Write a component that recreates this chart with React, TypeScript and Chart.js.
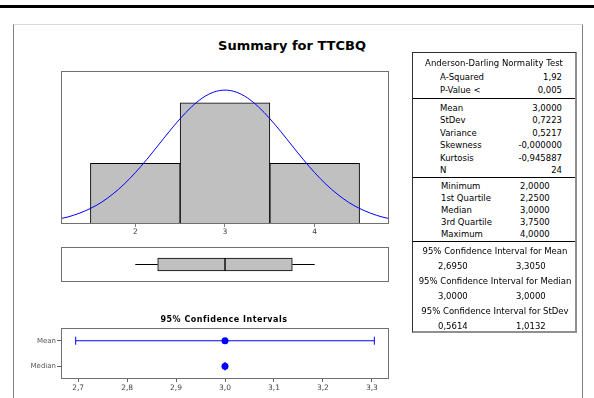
import React, { useEffect, useRef } from 'react';
import { Chart, registerables } from 'chart.js';

Chart.register(...registerables);

// ---------- data ----------
const histBins = [2, 3, 4];
const histCounts = [6, 12, 6];
const histTicks = [2, 3, 4];
// fitted normal curve (count scale)
const curveX = [1.172, 1.25, 1.375, 1.5, 1.625, 1.75, 1.875, 2, 2.125, 2.25, 2.375, 2.5, 2.625, 2.75, 2.875, 3,
  3.125, 3.25, 3.375, 3.5, 3.625, 3.75, 3.875, 4, 4.125, 4.25, 4.375, 4.5, 4.625, 4.75, 4.828];
const curveY = [0.54, 0.70, 1.06, 1.54, 2.16, 2.97, 3.94, 5.08, 6.36, 7.73, 9.12, 10.43, 11.58, 12.49, 13.06, 13.26,
  13.06, 12.49, 11.58, 10.43, 9.12, 7.73, 6.36, 5.08, 3.94, 2.97, 2.16, 1.54, 1.06, 0.70, 0.54];

const boxMin = 2.0;
const boxQ1 = 2.25;
const boxMedian = 3.0;
const boxQ3 = 3.75;
const boxMax = 4.0;

const ciRows = ['Mean', 'Median'];
const meanCI = [2.695, 3.305];
const medianCI = [3.0, 3.0];
const ciCenters = [3.0, 3.0];
const ciTicks = [2.7, 2.8, 2.9, 3.0, 3.1, 3.2, 3.3];

const adLabels = ['A-Squared', 'P-Value <'];
const adValues = ['1,92', '0,005'];
const descLabels = ['Mean', 'StDev', 'Variance', 'Skewness', 'Kurtosis', 'N'];
const descValues = ['3,0000', '0,7223', '0,5217', '-0,000000', '-0,945887', '24'];
const quartLabels = ['Minimum', '1st Quartile', 'Median', '3rd Quartile', 'Maximum'];
const quartValues = ['2,0000', '2,2500', '3,0000', '3,7500', '4,0000'];
const ciHeaders = ['95% Confidence Interval for Mean', '95% Confidence Interval for Median', '95% Confidence Interval for StDev'];
const ciLow = ['2,6950', '3,0000', '0,5614'];
const ciHigh = ['3,3050', '3,0000', '1,0132'];

// ---------- styling ----------
const FONT = '"DejaVu Sans", Verdana, sans-serif';
const BLUE = '#0000ff';

const framePlugin = {
  id: 'frame',
  afterDraw(chart: any) {
    const { ctx, chartArea: a } = chart;
    ctx.save();
    ctx.strokeStyle = '#707070';
    ctx.lineWidth = 1;
    ctx.strokeRect(a.left + 0.5, a.top + 0.5, a.right - a.left - 1, a.bottom - a.top - 1);
    ctx.restore();
  },
};

const baseOptions = (padding: any) => ({
  responsive: false,
  animation: false,
  events: [],
  layout: { padding },
  plugins: { legend: { display: false }, tooltip: { enabled: false }, title: { display: false } },
});

function histConfig(): any {
  return {
    type: 'bar',
    data: {
      datasets: [
        {
          type: 'line',
          data: curveX.map((x, i) => ({ x, y: curveY[i] })),
          borderColor: BLUE,
          borderWidth: 1,
          pointRadius: 0,
          cubicInterpolationMode: 'monotone',
          order: 0,
        },
        {
          type: 'bar',
          data: histBins.map((x, i) => ({ x, y: histCounts[i] })),
          backgroundColor: '#c0c0c0',
          borderColor: '#000000',
          borderWidth: 1,
          barPercentage: 1,
          categoryPercentage: 1,
          order: 1,
        },
      ],
    },
    options: {
      ...baseOptions({ left: 6, right: 6, top: 6, bottom: 5 }),
      scales: {
        x: {
          type: 'linear',
          min: 1.172,
          max: 4.828,
          offset: false,
          afterBuildTicks: (s: any) => { s.ticks = histTicks.map((v) => ({ value: v })); },
          afterFit: (s: any) => { s.height = 16; },
          grid: { drawOnChartArea: false, drawTicks: true, tickLength: 3, color: '#808080', offset: false },
          border: { display: false },
          ticks: { padding: 1, color: '#444', font: { family: FONT, size: 7.5 }, callback: (v: any) => String(v) },
        },
        y: { type: 'linear', display: false, min: 0, max: 15.15 },
      },
    },
    plugins: [framePlugin],
  };
}

function boxConfig(): any {
  const barStyle = {
    type: 'bar',
    indexAxis: 'y',
    backgroundColor: '#c0c0c0',
    borderColor: '#000000',
    borderWidth: 1,
    borderSkipped: false,
    barThickness: 13,
    grouped: false,
  };
  const whisker = { type: 'line', borderColor: '#000000', borderWidth: 1, pointRadius: 0 };
  return {
    type: 'bar',
    data: {
      datasets: [
        { ...barStyle, data: [{ x: [boxQ1, boxMedian], y: 0.5 }] },
        { ...barStyle, data: [{ x: [boxMedian, boxQ3], y: 0.5 }] },
        { ...whisker, data: [{ x: boxMin, y: 0.5 }, { x: boxQ1, y: 0.5 }] },
        { ...whisker, data: [{ x: boxQ3, y: 0.5 }, { x: boxMax, y: 0.5 }] },
      ],
    },
    options: {
      ...baseOptions({ left: 6, right: 6, top: 6, bottom: 6 }),
      scales: {
        x: { type: 'linear', display: false, min: 1.172, max: 4.828, offset: false },
        y: { type: 'linear', display: false, min: 0, max: 1, offset: false },
      },
    },
    plugins: [framePlugin],
  };
}

function ciConfig(): any {
  const cap = {
    borderColor: BLUE,
    borderWidth: 1,
    pointStyle: 'line',
    rotation: 90,
    pointRadius: 4,
    pointBorderColor: BLUE,
    pointBorderWidth: 1,
  };
  return {
    type: 'line',
    data: {
      datasets: [
        { ...cap, data: [{ x: meanCI[0], y: ciRows[0] }, { x: meanCI[1], y: ciRows[0] }] },
        { ...cap, data: [{ x: medianCI[0], y: ciRows[1] }, { x: medianCI[1], y: ciRows[1] }] },
        {
          data: ciRows.map((r, i) => ({ x: ciCenters[i], y: r })),
          showLine: false,
          pointStyle: 'circle',
          pointRadius: 3.5,
          pointBackgroundColor: BLUE,
          pointBorderColor: BLUE,
          pointBorderWidth: 0,
        },
      ],
    },
    options: {
      ...baseOptions({ left: 0, right: 6, top: 6, bottom: 2 }),
      scales: {
        x: {
          type: 'linear',
          min: 2.665,
          max: 3.335,
          offset: false,
          afterBuildTicks: (s: any) => { s.ticks = ciTicks.map((v) => ({ value: v })); },
          afterFit: (s: any) => { s.height = 17; },
          grid: { drawOnChartArea: false, drawTicks: true, tickLength: 3, color: '#606060', offset: false },
          border: { display: false },
          ticks: {
            padding: 2,
            color: '#444',
            font: { family: FONT, size: 7.5 },
            callback: (v: any) => Number(v).toFixed(1).replace('.', ','),
          },
        },
        y: {
          type: 'category',
          labels: ciRows,
          offset: true,
          afterFit: (s: any) => { s.width = 41; },
          grid: { drawOnChartArea: false, drawTicks: true, tickLength: 4, color: '#606060', offset: false },
          border: { display: false },
          ticks: { padding: 1, color: '#555', font: { family: FONT, size: 7 } },
        },
      },
    },
    plugins: [framePlugin],
  };
}

function Txt(props: { x: number; y: number; text: string; align?: string; size?: number; bold?: boolean; color?: string; spacing?: number }) {
  const { x, y, text, align = 'left', size = 8.5, bold = false, color = '#000', spacing = 0 } = props;
  const style: any = {
    position: 'absolute',
    top: y - 7,
    height: 14,
    lineHeight: '14px',
    fontSize: size,
    fontFamily: FONT,
    fontWeight: bold ? 'bold' : 'normal',
    color,
    whiteSpace: 'nowrap',
    letterSpacing: spacing,
  };
  if (align === 'left') style.left = x;
  else if (align === 'right') style.right = 594 - x;
  else {
    style.left = x - 150;
    style.width = 300;
    style.textAlign = 'center';
  }
  return <div style={style}>{text}</div>;
}

const abs = (l: number, t: number, w: number, h: number, extra: any = {}) => ({
  position: 'absolute' as const, left: l, top: t, width: w, height: h, ...extra,
});

export default function App() {
  const histRef = useRef<HTMLCanvasElement>(null);
  const boxRef = useRef<HTMLCanvasElement>(null);
  const ciRef = useRef<HTMLCanvasElement>(null);

  useEffect(() => {
    const charts = [
      new Chart(histRef.current as any, histConfig()),
      new Chart(boxRef.current as any, boxConfig()),
      new Chart(ciRef.current as any, ciConfig()),
    ];
    return () => charts.forEach((c) => c.destroy());
  }, []);

  const descY = [108, 120.4, 132.8, 145.2, 157.6, 170];
  const quartY = [186, 198, 210, 222, 234];
  const ciHeadY = [251, 281, 311];
  const ciValY = [266, 296, 326];

  return (
    <div style={abs(0, 0, 594, 398, { background: '#fff', overflow: 'hidden' })}>
      {/* top rule */}
      <div style={abs(0, 5, 594, 3, { background: '#000' })} />
      {/* outer frame */}
      <div style={abs(13, 24, 568, 380, { borderLeft: '1px solid #808080', borderTop: '1px solid #d8d8d8', borderRight: '1px solid #808080' })} />

      <Txt x={292} y={46} text="Summary for TTCBQ" align="center" size={13} bold />

      <canvas ref={histRef} width={340} height={180} style={abs(55, 65, 340, 180)} />
      <canvas ref={boxRef} width={340} height={47} style={abs(55, 241, 340, 47)} />

      <Txt x={224} y={320} text="95% Confidence Intervals" align="center" size={8} bold spacing={0.5} />
      <canvas ref={ciRef} width={375} height={76} style={abs(20, 322, 375, 76)} />

      {/* stats box */}
      <div style={abs(412, 52, 162, 278, { borderLeft: '1px solid #303030', borderTop: '1px solid #303030', borderRight: '2px solid #909090', borderBottom: '2px solid #909090' })} />
      <div style={abs(413, 98, 162, 1, { background: '#000' })} />
      <div style={abs(413, 177, 162, 1, { background: '#000' })} />
      <div style={abs(413, 241, 162, 1, { background: '#000' })} />

      <Txt x={494} y={63} text="Anderson-Darling Normality Test" align="center" />
      {adLabels.map((l, i) => <Txt key={'adl' + i} x={440} y={77 + i * 12.5} text={l} />)}
      {adValues.map((v, i) => <Txt key={'adv' + i} x={562} y={77 + i * 12.5} text={v} align="right" />)}

      {descLabels.map((l, i) => <Txt key={'dl' + i} x={440} y={descY[i]} text={l} />)}
      {descValues.map((v, i) => <Txt key={'dv' + i} x={562} y={descY[i]} text={v} align="right" />)}

      {quartLabels.map((l, i) => <Txt key={'ql' + i} x={441} y={quartY[i]} text={l} />)}
      {quartValues.map((v, i) => <Txt key={'qv' + i} x={520} y={quartY[i]} text={v} />)}

      {ciHeaders.map((h, i) => <Txt key={'ch' + i} x={495} y={ciHeadY[i]} text={h} align="center" />)}
      {ciLow.map((v, i) => <Txt key={'cl' + i} x={438} y={ciValY[i]} text={v} />)}
      {ciHigh.map((v, i) => <Txt key={'cu' + i} x={516} y={ciValY[i]} text={v} />)}
    </div>
  );
}
